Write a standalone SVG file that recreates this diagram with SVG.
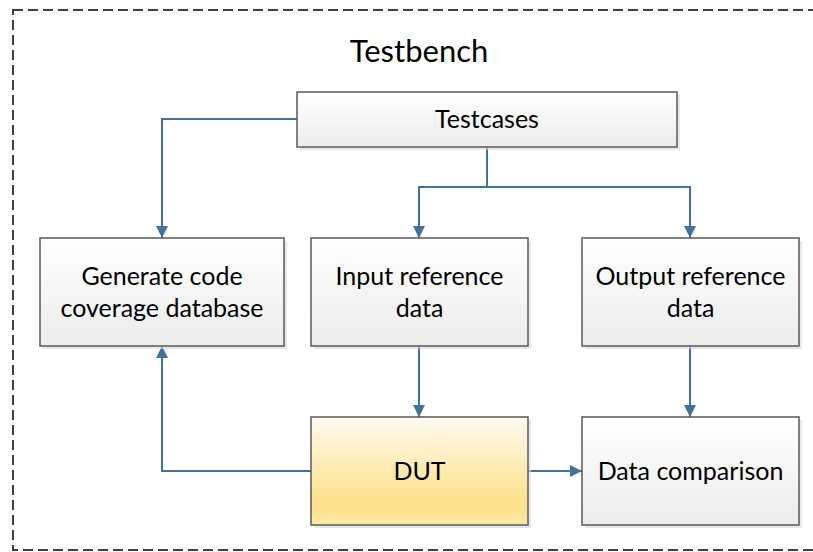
<svg xmlns="http://www.w3.org/2000/svg" width="813" height="552" viewBox="0 0 813 552">
<style>
.box{stroke:#5a5a5a;stroke-width:1.5;fill:url(#gGray)}
.dut{stroke:#5a5a5a;stroke-width:1.5;fill:url(#gYellow)}
.shadow{fill:#d9d9d9;opacity:0.6}
.lbl{font-family:Lato,"Liberation Sans",sans-serif;font-size:25px;fill:#000;text-anchor:middle}
.title{font-family:Lato,"Liberation Sans",sans-serif;font-size:31px;fill:#000;text-anchor:middle}
.conn{fill:none;stroke:#41719c;stroke-width:2}
</style>
<defs>
<linearGradient id="gGray" x1="0" y1="0" x2="0" y2="1">
<stop offset="0" stop-color="#ffffff"/>
<stop offset="1" stop-color="#ececec"/>
</linearGradient>
<linearGradient id="gYellow" x1="0" y1="0" x2="0" y2="1">
<stop offset="0" stop-color="#fffbef"/>
<stop offset="0.8" stop-color="#fde08a"/>
<stop offset="1" stop-color="#fde7a5"/>
</linearGradient>
<marker id="arr" viewBox="0 0 12 12" refX="12" refY="6" markerWidth="12" markerHeight="12" markerUnits="userSpaceOnUse" orient="auto">
<path d="M0,0 L12,6 L0,12 Z" fill="#41719c"/>
</marker>
</defs>
<rect x="13" y="10" width="820" height="540" fill="none" stroke="#404040" stroke-width="2" stroke-dasharray="10,5"/>
<text class="title" x="419" y="62">Testbench</text>
<g id="connectors">
<path class="conn" d="M297,119 H162 V238" marker-end="url(#arr)"/>
<path class="conn" d="M487,147 V187 H419 V238" marker-end="url(#arr)"/>
<path class="conn" d="M487,187 H690 V238" marker-end="url(#arr)"/>
<path class="conn" d="M419,346 V417" marker-end="url(#arr)"/>
<path class="conn" d="M690,346 V417" marker-end="url(#arr)"/>
<path class="conn" d="M311,471 H162 V346" marker-end="url(#arr)"/>
<path class="conn" d="M528,471 H582" marker-end="url(#arr)"/>
</g>
<g id="testcases">
<rect class="shadow" x="300" y="95" width="380" height="55"/>
<rect class="box" x="297" y="92" width="380" height="55"/>
<text class="lbl" x="487" y="128">Testcases</text>
</g>
<g id="coverage">
<rect class="shadow" x="43" y="241" width="244" height="108"/>
<rect class="box" x="40" y="238" width="244" height="108"/>
<text class="lbl" x="162" y="285">Generate code</text>
<text class="lbl" x="162" y="317">coverage database</text>
</g>
<g id="input">
<rect class="shadow" x="314" y="241" width="217" height="108"/>
<rect class="box" x="311" y="238" width="217" height="108"/>
<text class="lbl" x="419.5" y="285">Input reference</text>
<text class="lbl" x="419.5" y="317">data</text>
</g>
<g id="output">
<rect class="shadow" x="585" y="241" width="217" height="108"/>
<rect class="box" x="582" y="238" width="217" height="108"/>
<text class="lbl" x="690.5" y="285">Output reference</text>
<text class="lbl" x="690.5" y="317">data</text>
</g>
<g id="dut">
<rect class="shadow" x="314" y="420" width="217" height="108"/>
<rect class="dut" x="311" y="417" width="217" height="108"/>
<text class="lbl" x="419.5" y="480">DUT</text>
</g>
<g id="comparison">
<rect class="shadow" x="585" y="420" width="217" height="108"/>
<rect class="box" x="582" y="417" width="217" height="108"/>
<text class="lbl" x="690.5" y="480">Data comparison</text>
</g>
</svg>
